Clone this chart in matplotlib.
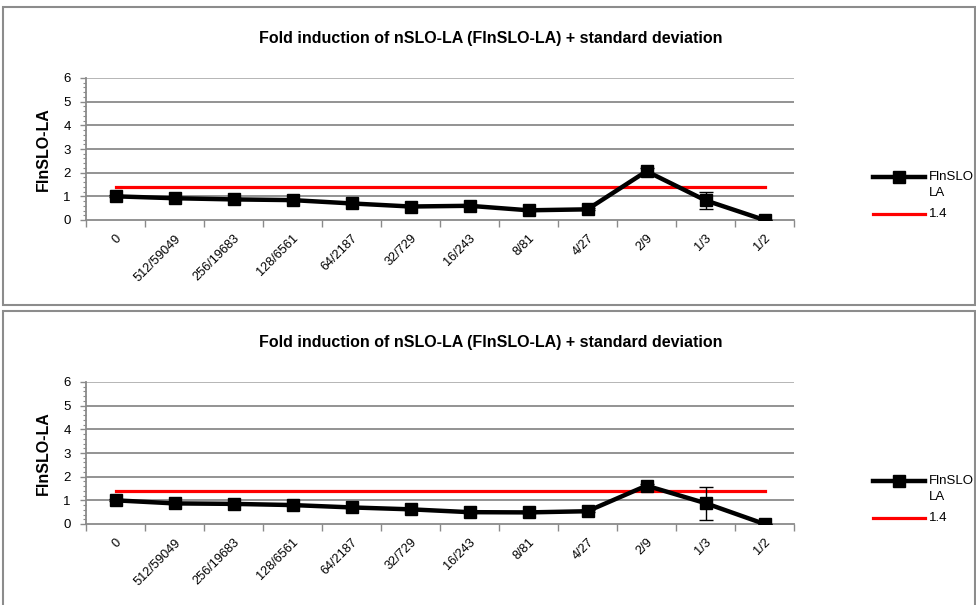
import matplotlib
matplotlib.use("Agg")
import matplotlib.pyplot as plt
from matplotlib.lines import Line2D
from matplotlib.patches import Rectangle
from matplotlib.ticker import FixedLocator, MultipleLocator

plt.rcParams['font.family'] = ['Liberation Sans', 'DejaVu Sans']

categories = ["0", "512/59049", "256/19683", "128/6561", "64/2187", "32/729",
              "16/243", "8/81", "4/27", "2/9", "1/3", "1/2"]

# first experiment
fold_a = [1.00, 0.92, 0.87, 0.84, 0.70, 0.57, 0.60, 0.41, 0.45, 2.06, 0.83, 0.00]
sd_a = [0.04, 0.03, 0.04, 0.04, 0.04, 0.03, 0.04, 0.03, 0.04, 0.12, 0.36, 0.00]

# second experiment
fold_b = [1.00, 0.87, 0.85, 0.80, 0.70, 0.62, 0.50, 0.49, 0.54, 1.62, 0.88, 0.00]
sd_b = [0.04, 0.03, 0.03, 0.04, 0.03, 0.03, 0.03, 0.03, 0.04, 0.08, 0.70, 0.00]

threshold = 1.4
series_name = "FlnSLO-LA"
legend_lines = ["FlnSLO", "LA"]
title = "Fold induction of nSLO-LA (FlnSLO-LA) + standard deviation"

W, H = 976, 605
fig = plt.figure(figsize=(W / 100, H / 100), dpi=100)
GRID = "#8a8a8a"


def fx(px):
    return px / W


def fy(py):
    return 1 - py / H


def panel(top, bottom, fold, sd):
    # chart frame
    fig.patches.append(Rectangle((fx(3), fy(bottom)), fx(972), (bottom - top) / H,
                                 transform=fig.transFigure, fill=False,
                                 edgecolor="#8c8c8c", linewidth=1.5, zorder=0))
    ax_top = top + 71
    ax_bot = top + 213
    ax = fig.add_axes([fx(86), fy(ax_bot), fx(708), (ax_bot - ax_top) / H])
    x = list(range(len(categories)))
    ax.set_xlim(-0.5, len(categories) - 0.5)
    ax.set_ylim(0, 6)
    ax.set_yticks(range(0, 7))
    ax.yaxis.set_minor_locator(MultipleLocator(0.2))
    for v in range(1, 7):
        ax.axhline(v, color=GRID if v < 6 else "#b0b0b0", linewidth=1.3, zorder=1)
    for s in ("top", "right"):
        ax.spines[s].set_visible(False)
    for s in ("left", "bottom"):
        ax.spines[s].set_color(GRID)
        ax.spines[s].set_linewidth(1.3)
    ax.tick_params(axis="y", which="major", length=4, width=1, color=GRID,
                   labelsize=9.5, pad=7)
    ax.tick_params(axis="y", which="minor", length=2, width=0.8, color=GRID)
    ax.set_xticks(x)
    ax.set_xticklabels(categories, rotation=45, ha="right", va="top",
                       rotation_mode="anchor", fontsize=9.2)
    ax.tick_params(axis="x", which="major", length=0, pad=9)
    ax.xaxis.set_minor_locator(FixedLocator([i - 0.5 for i in range(len(categories) + 1)]))
    ax.tick_params(axis="x", which="minor", length=5, width=1, color=GRID)
    ax.set_ylabel(series_name, fontsize=11.5, fontweight="bold", labelpad=9)
    ax.plot([x[0], x[-1]], [threshold, threshold], color="#ff0000",
            linewidth=2.3, zorder=3)
    ax.errorbar(x, fold, yerr=sd, color="black", linewidth=3.2, marker="s",
                markersize=8, ecolor="black", elinewidth=1, capsize=5,
                capthick=1, zorder=4)
    fig.text(fx(491), fy(top + 31), title, ha="center", va="center",
             fontsize=11.5, fontweight="bold")
    # legend
    ly1 = top + 170
    ly2 = top + 207
    fig.add_artist(Line2D([fx(873), fx(899), fx(925)], [fy(ly1)] * 3, color="black",
                          linewidth=3.2, marker="s", markersize=8,
                          markevery=[1], transform=fig.transFigure))
    fig.text(fx(929), fy(ly1), legend_lines[0], ha="left", va="center", fontsize=9.5)
    fig.text(fx(929), fy(ly1 + 16), legend_lines[1], ha="left", va="center", fontsize=9.5)
    fig.add_artist(Line2D([fx(873), fx(925)], [fy(ly2), fy(ly2)], color="#ff0000",
                          linewidth=2.3, transform=fig.transFigure))
    fig.text(fx(929), fy(ly2), str(threshold), ha="left", va="center", fontsize=9.5)
    return ax


panel(7, 305, fold_a, sd_a)
panel(311, 640, fold_b, sd_b)

fig.savefig("out.png", dpi=100)
